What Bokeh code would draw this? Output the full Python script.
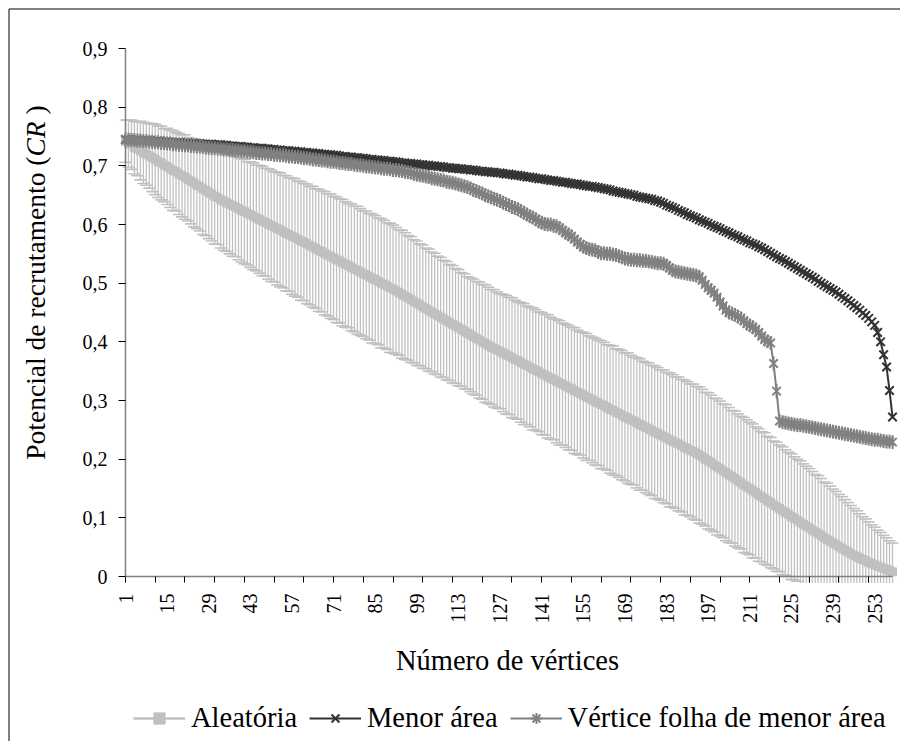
from math import pi
from bokeh.plotting import figure
from bokeh.models import (ColumnDataSource, FixedTicker, Legend, LegendItem, Label, Range1d)
from bokeh.embed import file_html
from bokeh.resources import INLINE

# ---------------- data ----------------
vertices = list(range(1, 260))

x_tick_labels = [1, 15, 29, 43, 57, 71, 85, 99, 113, 127, 141, 155, 169, 183, 197, 211, 225, 239, 253]
y_ticks = [0, 0.1, 0.2, 0.3, 0.4, 0.5, 0.6, 0.7, 0.8, 0.9]
y_tick_labels = ["0", "0,1", "0,2", "0,3", "0,4", "0,5", "0,6", "0,7", "0,8", "0,9"]

aleatoria = [
    0.742, 0.738, 0.736, 0.731, 0.729, 0.726, 0.722, 0.720, 0.717, 0.714,
    0.711, 0.707, 0.705, 0.701, 0.699, 0.695, 0.692, 0.690, 0.686, 0.683,
    0.681, 0.677, 0.674, 0.671, 0.667, 0.665, 0.661, 0.658, 0.655, 0.652,
    0.648, 0.646, 0.642, 0.640, 0.637, 0.635, 0.632, 0.630, 0.627, 0.624,
    0.622, 0.619, 0.617, 0.614, 0.611, 0.609, 0.606, 0.604, 0.601, 0.598,
    0.596, 0.593, 0.591, 0.588, 0.585, 0.583, 0.580, 0.578, 0.575, 0.572,
    0.570, 0.567, 0.564, 0.562, 0.559, 0.556, 0.554, 0.551, 0.548, 0.546,
    0.543, 0.540, 0.538, 0.535, 0.532, 0.530, 0.527, 0.524, 0.522, 0.519,
    0.516, 0.514, 0.511, 0.508, 0.506, 0.503, 0.500, 0.498, 0.495, 0.492,
    0.490, 0.487, 0.484, 0.481, 0.478, 0.475, 0.472, 0.469, 0.466, 0.463,
    0.460, 0.457, 0.454, 0.451, 0.448, 0.445, 0.442, 0.439, 0.436, 0.433,
    0.430, 0.427, 0.424, 0.421, 0.418, 0.415, 0.412, 0.409, 0.406, 0.403,
    0.400, 0.397, 0.394, 0.391, 0.389, 0.386, 0.384, 0.381, 0.378, 0.376,
    0.373, 0.370, 0.368, 0.365, 0.362, 0.360, 0.357, 0.354, 0.352, 0.349,
    0.346, 0.344, 0.341, 0.338, 0.336, 0.333, 0.330, 0.328, 0.325, 0.322,
    0.320, 0.317, 0.314, 0.312, 0.309, 0.306, 0.304, 0.301, 0.298, 0.296,
    0.293, 0.291, 0.288, 0.285, 0.283, 0.280, 0.278, 0.275, 0.272, 0.270,
    0.267, 0.265, 0.262, 0.259, 0.257, 0.254, 0.252, 0.249, 0.246, 0.244,
    0.241, 0.239, 0.236, 0.233, 0.231, 0.228, 0.226, 0.223, 0.220, 0.218,
    0.215, 0.213, 0.210, 0.207, 0.204, 0.200, 0.197, 0.194, 0.190, 0.187,
    0.184, 0.180, 0.177, 0.173, 0.170, 0.167, 0.163, 0.160, 0.156, 0.153,
    0.150, 0.146, 0.143, 0.139, 0.136, 0.133, 0.129, 0.126, 0.122, 0.119,
    0.116, 0.112, 0.109, 0.106, 0.102, 0.099, 0.096, 0.092, 0.089, 0.086,
    0.083, 0.079, 0.076, 0.073, 0.070, 0.066, 0.063, 0.060, 0.057, 0.054,
    0.051, 0.048, 0.045, 0.042, 0.039, 0.036, 0.034, 0.031, 0.029, 0.027,
    0.024, 0.022, 0.020, 0.018, 0.016, 0.014, 0.012, 0.010, 0.008,
]

aleatoria_err = [
    0.036, 0.040, 0.042, 0.045, 0.046, 0.050, 0.052, 0.053, 0.055, 0.058,
    0.060, 0.061, 0.063, 0.062, 0.065, 0.066, 0.068, 0.067, 0.069, 0.070,
    0.072, 0.071, 0.073, 0.075, 0.074, 0.076, 0.078, 0.077, 0.079, 0.080,
    0.081, 0.080, 0.082, 0.084, 0.083, 0.085, 0.086, 0.085, 0.087, 0.088,
    0.089, 0.088, 0.090, 0.091, 0.090, 0.092, 0.093, 0.092, 0.094, 0.095,
    0.094, 0.096, 0.097, 0.096, 0.098, 0.097, 0.099, 0.100, 0.099, 0.101,
    0.100, 0.102, 0.101, 0.103, 0.102, 0.104, 0.103, 0.105, 0.104, 0.106,
    0.105, 0.107, 0.106, 0.108, 0.107, 0.106, 0.108, 0.107, 0.109, 0.108,
    0.107, 0.109, 0.108, 0.110, 0.109, 0.108, 0.110, 0.109, 0.108, 0.110,
    0.109, 0.108, 0.107, 0.109, 0.108, 0.106, 0.107, 0.105, 0.106, 0.104,
    0.105, 0.103, 0.104, 0.102, 0.103, 0.101, 0.102, 0.100, 0.101, 0.099,
    0.100, 0.098, 0.099, 0.097, 0.098, 0.096, 0.097, 0.098, 0.097, 0.099,
    0.098, 0.100, 0.099, 0.098, 0.100, 0.099, 0.098, 0.100, 0.101, 0.100,
    0.102, 0.101, 0.100, 0.102, 0.103, 0.101, 0.102, 0.104, 0.103, 0.102,
    0.104, 0.103, 0.105, 0.104, 0.103, 0.105, 0.106, 0.104, 0.105, 0.106,
    0.105, 0.107, 0.106, 0.105, 0.107, 0.108, 0.106, 0.107, 0.108, 0.107,
    0.109, 0.108, 0.107, 0.109, 0.110, 0.108, 0.109, 0.110, 0.109, 0.111,
    0.110, 0.109, 0.111, 0.112, 0.110, 0.111, 0.112, 0.111, 0.113, 0.112,
    0.111, 0.113, 0.112, 0.114, 0.113, 0.112, 0.114, 0.113, 0.115, 0.114,
    0.113, 0.115, 0.114, 0.116, 0.115, 0.114, 0.116, 0.115, 0.114, 0.116,
    0.115, 0.114, 0.116, 0.115, 0.113, 0.115, 0.114, 0.113, 0.115, 0.114,
    0.113, 0.114, 0.112, 0.113, 0.111, 0.112, 0.110, 0.111, 0.109, 0.110,
    0.108, 0.109, 0.107, 0.106, 0.107, 0.105, 0.104, 0.105, 0.103, 0.102,
    0.101, 0.100, 0.098, 0.099, 0.097, 0.095, 0.096, 0.094, 0.092, 0.091,
    0.089, 0.088, 0.086, 0.084, 0.082, 0.080, 0.078, 0.076, 0.073, 0.071,
    0.069, 0.066, 0.064, 0.061, 0.059, 0.056, 0.054, 0.051, 0.049,
]

menor_area = [
    0.745, 0.745, 0.744, 0.744, 0.744, 0.743, 0.743, 0.743, 0.743, 0.742,
    0.742, 0.742, 0.741, 0.741, 0.741, 0.740, 0.740, 0.740, 0.740, 0.739,
    0.739, 0.739, 0.738, 0.738, 0.738, 0.738, 0.737, 0.737, 0.737, 0.737,
    0.736, 0.736, 0.736, 0.735, 0.735, 0.734, 0.734, 0.733, 0.733, 0.733,
    0.732, 0.732, 0.731, 0.731, 0.730, 0.730, 0.730, 0.729, 0.729, 0.728,
    0.728, 0.727, 0.727, 0.726, 0.726, 0.726, 0.725, 0.725, 0.724, 0.724,
    0.723, 0.723, 0.722, 0.722, 0.721, 0.721, 0.720, 0.720, 0.719, 0.719,
    0.718, 0.718, 0.717, 0.716, 0.716, 0.715, 0.715, 0.714, 0.714, 0.713,
    0.713, 0.712, 0.711, 0.711, 0.710, 0.710, 0.709, 0.709, 0.708, 0.708,
    0.707, 0.707, 0.706, 0.705, 0.705, 0.704, 0.704, 0.703, 0.703, 0.702,
    0.702, 0.701, 0.701, 0.700, 0.700, 0.699, 0.699, 0.698, 0.697, 0.697,
    0.696, 0.696, 0.695, 0.695, 0.694, 0.694, 0.693, 0.693, 0.692, 0.691,
    0.691, 0.690, 0.690, 0.689, 0.689, 0.688, 0.688, 0.687, 0.686, 0.686,
    0.685, 0.684, 0.684, 0.683, 0.682, 0.681, 0.681, 0.680, 0.679, 0.678,
    0.678, 0.677, 0.676, 0.675, 0.675, 0.674, 0.673, 0.672, 0.672, 0.671,
    0.670, 0.669, 0.669, 0.668, 0.667, 0.666, 0.665, 0.665, 0.664, 0.663,
    0.662, 0.661, 0.660, 0.659, 0.657, 0.656, 0.655, 0.654, 0.653, 0.652,
    0.651, 0.650, 0.648, 0.647, 0.646, 0.645, 0.644, 0.643, 0.641, 0.640,
    0.638, 0.636, 0.633, 0.631, 0.629, 0.627, 0.624, 0.622, 0.620, 0.617,
    0.615, 0.613, 0.611, 0.608, 0.606, 0.604, 0.602, 0.599, 0.597, 0.595,
    0.593, 0.590, 0.588, 0.586, 0.583, 0.581, 0.579, 0.576, 0.574, 0.572,
    0.569, 0.567, 0.565, 0.562, 0.560, 0.557, 0.554, 0.551, 0.548, 0.545,
    0.542, 0.540, 0.537, 0.534, 0.531, 0.528, 0.525, 0.522, 0.519, 0.516,
    0.513, 0.510, 0.507, 0.503, 0.500, 0.497, 0.494, 0.491, 0.488, 0.485,
    0.481, 0.477, 0.474, 0.470, 0.466, 0.462, 0.458, 0.454, 0.449, 0.445,
    0.440, 0.434, 0.428, 0.416, 0.400, 0.378, 0.357, 0.317, 0.272,
]

vertice_folha = [
    0.745, 0.745, 0.744, 0.744, 0.743, 0.743, 0.742, 0.742, 0.741, 0.741,
    0.740, 0.740, 0.739, 0.739, 0.738, 0.738, 0.737, 0.737, 0.736, 0.736,
    0.735, 0.735, 0.734, 0.734, 0.733, 0.733, 0.732, 0.731, 0.731, 0.730,
    0.730, 0.729, 0.729, 0.728, 0.728, 0.727, 0.727, 0.726, 0.726, 0.725,
    0.725, 0.724, 0.723, 0.723, 0.722, 0.722, 0.721, 0.721, 0.720, 0.720,
    0.719, 0.719, 0.718, 0.718, 0.717, 0.716, 0.716, 0.715, 0.715, 0.714,
    0.713, 0.713, 0.712, 0.711, 0.711, 0.710, 0.709, 0.709, 0.708, 0.707,
    0.707, 0.706, 0.705, 0.705, 0.704, 0.703, 0.703, 0.702, 0.701, 0.701,
    0.700, 0.699, 0.699, 0.698, 0.697, 0.697, 0.696, 0.695, 0.695, 0.694,
    0.693, 0.693, 0.692, 0.691, 0.690, 0.689, 0.688, 0.686, 0.685, 0.684,
    0.683, 0.682, 0.681, 0.679, 0.678, 0.677, 0.676, 0.675, 0.673, 0.672,
    0.671, 0.670, 0.668, 0.667, 0.665, 0.664, 0.662, 0.659, 0.657, 0.655,
    0.653, 0.650, 0.648, 0.646, 0.644, 0.642, 0.640, 0.637, 0.635, 0.633,
    0.630, 0.628, 0.626, 0.623, 0.620, 0.617, 0.614, 0.612, 0.609, 0.605,
    0.603, 0.601, 0.600, 0.600, 0.598, 0.597, 0.594, 0.590, 0.586, 0.583,
    0.580, 0.575, 0.570, 0.566, 0.562, 0.560, 0.558, 0.557, 0.556, 0.553,
    0.551, 0.551, 0.550, 0.550, 0.549, 0.548, 0.546, 0.544, 0.542, 0.541,
    0.540, 0.540, 0.539, 0.539, 0.538, 0.538, 0.537, 0.536, 0.535, 0.534,
    0.534, 0.533, 0.530, 0.526, 0.522, 0.520, 0.519, 0.518, 0.517, 0.516,
    0.515, 0.514, 0.513, 0.511, 0.505, 0.498, 0.492, 0.488, 0.483, 0.476,
    0.468, 0.461, 0.454, 0.450, 0.448, 0.446, 0.443, 0.440, 0.436, 0.431,
    0.428, 0.425, 0.421, 0.416, 0.410, 0.404, 0.401, 0.398, 0.363, 0.316,
    0.265, 0.263, 0.262, 0.261, 0.260, 0.259, 0.258, 0.258, 0.257, 0.256,
    0.255, 0.254, 0.253, 0.252, 0.251, 0.250, 0.249, 0.248, 0.247, 0.246,
    0.245, 0.244, 0.243, 0.242, 0.241, 0.240, 0.239, 0.238, 0.237, 0.236,
    0.235, 0.234, 0.233, 0.233, 0.232, 0.231, 0.230, 0.230, 0.229,
]

series_names = ["Aleatória", "Menor área", "Vértice folha de menor área"]
x_title = "Número de vértices"
y_title_parts = ["Potencial de recrutamento (", "CR", " )"]

assert len(aleatoria) == len(aleatoria_err) == len(menor_area) == len(vertice_folha) == len(vertices)

# ---------------- layout (pixels of the page) ----------------
FONT = "Liberation Serif"
C_AL = "#C0C0C0"
C_MA = "#333333"
C_VF = "#808080"

W, H = 900, 741              # canvas = frame (whole chart drawn inside the frame)
X_PX0, X_PX1 = 125.0, 892.0  # where the first / last category sit
Y_PX0, Y_PX9 = 576.0, 48.0   # where 0 and 0.9 sit
YMAX = 0.9

ppx = (X_PX1 - X_PX0) / (vertices[-1] - vertices[0])
ppy = (Y_PX0 - Y_PX9) / YMAX


def xd(px):
    return vertices[0] + (px - X_PX0) / ppx


def yd(py):
    return (Y_PX0 - py) / ppy


CLIP_LOW = -0.011  # plot area clips error bars just below the axis
lo = [m - e for m, e in zip(aleatoria, aleatoria_err)]
src = ColumnDataSource(dict(
    x=vertices,
    al=aleatoria,
    lo=[max(v, CLIP_LOW) for v in lo],
    lo_cap=[v if v >= CLIP_LOW else float("nan") for v in lo],
    hi=[m + e for m, e in zip(aleatoria, aleatoria_err)],
    ma=menor_area,
    vf=vertice_folha,
))

p = figure(frame_width=W, frame_height=H,
           min_border_left=0, min_border_top=0, min_border_right=0, min_border_bottom=0,
           x_range=Range1d(xd(0), xd(W)), y_range=Range1d(yd(H), yd(0)),
           output_backend="svg", toolbar_location=None,
           background_fill_color="white", border_fill_color="white")
p.outline_line_color = None
p.xgrid.visible = False
p.ygrid.visible = False

# chart border (only its top and left edges fall inside the crop)
p.segment(x0=[xd(8.5), xd(8.5)], y0=[yd(8.5), yd(8.5)],
          x1=[xd(8.5), xd(W + 10)], y1=[yd(H + 10), yd(8.5)],
          line_color="#000000", line_width=1)

# error bars (Aleatória)
p.segment(x0="x", y0="lo", x1="x", y1="hi", source=src, line_color=C_AL, line_width=1.3)
p.scatter(x="x", y="hi", source=src, marker="dash", size=12, line_color=C_AL, line_width=1.6)
p.scatter(x="x", y="lo_cap", source=src, marker="dash", size=12, line_color=C_AL, line_width=1.6)

r_al_l = p.line(x="x", y="al", source=src, line_color=C_AL, line_width=2.5)
r_al_m = p.scatter(x="x", y="al", source=src, marker="square", size=8,
                   fill_color=C_AL, line_color=C_AL)

r_ma_l = p.line(x="x", y="ma", source=src, line_color=C_MA, line_width=2)
r_ma_m = p.scatter(x="x", y="ma", source=src, marker="x", size=12,
                   line_color=C_MA, line_width=2)

r_vf_l = p.line(x="x", y="vf", source=src, line_color=C_VF, line_width=2)
r_vf_m = p.scatter(x="x", y="vf", source=src, marker="x", size=12,
                   line_color=C_VF, line_width=2)
r_vf_m2 = p.scatter(x="x", y="vf", source=src, marker="dash", angle=pi / 2, size=14,
                    line_color=C_VF, line_width=2)
# legend swatch for the star marker (legend glyphs ignore marker angles)
r_vf_key = p.scatter(x=[float("nan")], y=[float("nan")], marker="cross", size=14,
                     line_color=C_VF, line_width=2)

# x axis, crossing at 0
xa = p.xaxis[0]
xa.fixed_location = 0
xa.bounds = (vertices[0], vertices[-1])
xa.ticker = FixedTicker(ticks=x_tick_labels, minor_ticks=list(range(1, 260, 10)))
xa.major_tick_out = 0
xa.major_tick_in = 0
xa.minor_tick_out = 6
xa.minor_tick_in = 0
xa.minor_tick_line_color = "#000000"
xa.axis_line_color = "#808080"
xa.axis_line_width = 1.5
xa.major_label_orientation = pi / 2
xa.major_label_standoff = 11
xa.major_label_text_font = FONT
xa.major_label_text_font_size = "20px"
xa.major_label_text_color = "#000000"

# y axis, crossing at the first category
ya = p.yaxis[0]
ya.fixed_location = vertices[0]
ya.bounds = (0, YMAX)
ya.ticker = FixedTicker(ticks=y_ticks)
ya.major_label_overrides = {t: s for t, s in zip(y_ticks, y_tick_labels)}
ya.major_tick_out = 7
ya.major_tick_in = 0
ya.minor_tick_out = 0
ya.minor_tick_in = 0
ya.major_tick_line_color = "#000000"
ya.axis_line_color = "#808080"
ya.axis_line_width = 1.5
ya.major_label_standoff = 11
ya.major_label_text_font = FONT
ya.major_label_text_font_size = "20px"
ya.major_label_text_color = "#000000"

# x title
p.add_layout(Label(x=xd(507), y=yd(660), text=x_title, text_align="center",
                   text_baseline="alphabetic", text_font=FONT, text_font_size="28.5px",
                   text_color="#000000"))

# y title with italic CR (three rotated labels); a leading space is collapsed in SVG,
# so the last piece is shifted by the width of that space
TFS = 27.5
em_widths = [11.025, 1.278, 0.583]
shifts = [0.0, 0.0, 0.25]
title_len = sum(em_widths) * TFS
start_px = 282 + title_len / 2  # bottom end of the vertical title
for part, w, s, style in zip(y_title_parts, em_widths, shifts, ["normal", "italic", "normal"]):
    p.add_layout(Label(x=xd(35), y=yd(start_px - s * TFS), text=part, angle=pi / 2,
                       text_font=FONT, text_font_size=f"{TFS}px", text_font_style=style,
                       text_color="#000000", text_align="left", text_baseline="middle"))
    start_px -= w * TFS

legend = Legend(items=[
    LegendItem(label=series_names[0], renderers=[r_al_l, r_al_m]),
    LegendItem(label=series_names[1], renderers=[r_ma_l, r_ma_m]),
    LegendItem(label=series_names[2], renderers=[r_vf_l, r_vf_m, r_vf_key]),
], orientation="horizontal", location=(133, H - 734),
    glyph_width=52, glyph_height=28, label_standoff=6, spacing=12,
    padding=0, margin=0, border_line_color=None, background_fill_alpha=0,
    label_text_font=FONT, label_text_font_size="28.5px", label_text_color="#000000")
p.add_layout(legend, "center")

open("out.html", "w").write(file_html(p, INLINE))
